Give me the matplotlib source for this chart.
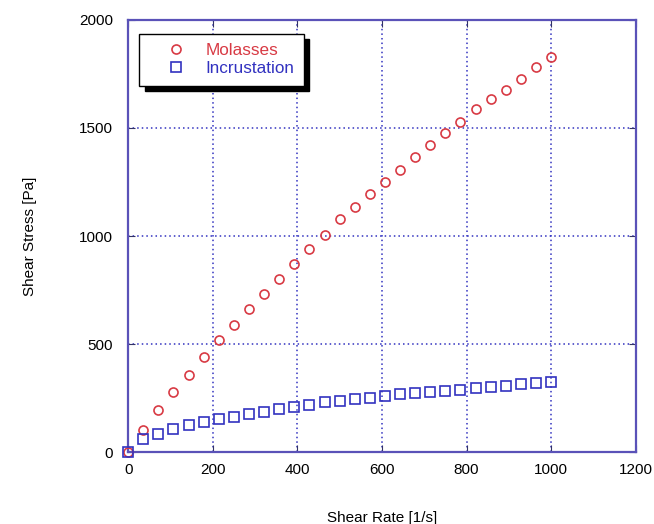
import matplotlib
matplotlib.use("Agg")
import matplotlib.pyplot as plt

plt.rcParams['font.family'] = ['Liberation Sans', 'DejaVu Sans']

# shear rate [1/s]
shear_rate = [0, 35.7, 71.4, 107.1, 142.9, 178.6, 214.3, 250.0, 285.7, 321.4,
              357.1, 392.9, 428.6, 464.3, 500.0, 535.7, 571.4, 607.1, 642.9,
              678.6, 714.3, 750.0, 785.7, 821.4, 857.1, 892.9, 928.6, 964.3, 1000.0]
# shear stress [Pa]
molasses = [0, 102, 194, 278, 355, 440, 518, 588, 662, 731,
            801, 870, 940, 1005, 1079, 1134, 1194, 1249, 1307,
            1367, 1423, 1475, 1528, 1587, 1633, 1677, 1728, 1781, 1829]
incrustation = [0, 63, 86, 108, 126, 140, 153, 165, 179, 185,
                198, 210, 218, 231, 238, 244, 250, 258, 268,
                272, 278, 284, 290, 296, 301, 308, 315, 321, 323]

x_ticks = [0, 200, 400, 600, 800, 1000, 1200]
y_ticks = [0, 500, 1000, 1500, 2000]

red = '#d83a44'
blue = '#3232c0'
frame = '#5a52b8'

fig = plt.figure(figsize=(6.54, 5.24), dpi=100)
ax = fig.add_axes([0.196, 0.137, 0.776, 0.825])

ax.plot(shear_rate, molasses, 'o', ls='none', mfc='none', mec=red, ms=6.5, mew=1.2,
        label='Molasses', clip_on=False, zorder=3)
ax.plot(shear_rate, incrustation, 's', ls='none', mfc='none', mec=blue, ms=6.5, mew=1.2,
        label='Incrustation', clip_on=False, zorder=3)

ax.set_xlim(0, 1200)
ax.set_ylim(0, 2000)
ax.set_xticks(x_ticks)
ax.set_yticks(y_ticks)
ax.grid(True, color=blue, ls=(0, (1, 2)), lw=1.1)
ax.tick_params(direction='in', length=5, color='#333366', labelsize=11, pad=8,
               top=True, right=True)
ax.tick_params(axis='y', pad=11)
for s in ax.spines.values():
    s.set_color(frame)
    s.set_linewidth(1.6)

ax.set_xlabel('Shear Rate [1/s]', fontsize=11, labelpad=24)
ax.set_ylabel('Shear Stress [Pa]', fontsize=11, labelpad=30)

leg = ax.legend(loc='upper left', bbox_to_anchor=(0.022, 0.968), fancybox=False,
                shadow={'color': 'black', 'alpha': 1, 'ox': 4, 'oy': -4},
                edgecolor='black', framealpha=1, fontsize=12.3, handletextpad=0.1,
                borderpad=0.56, labelspacing=0.17, borderaxespad=0, handlelength=3.2,
                labelcolor=[red, blue])
leg.get_frame().set_linewidth(1.0)

fig.savefig('out.png', dpi=100)
